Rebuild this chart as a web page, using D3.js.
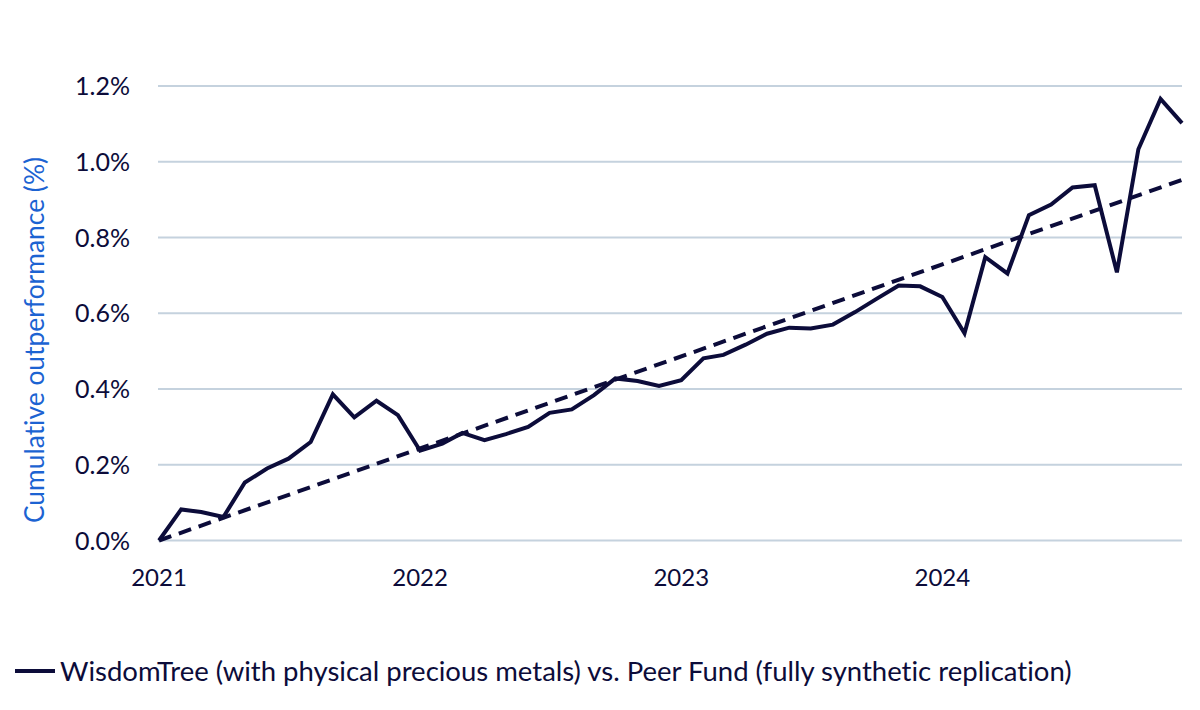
<!DOCTYPE html>
<html>
<head>
<meta charset="utf-8">
<script src="https://cdn.jsdelivr.net/npm/d3@7"></script>
<style>
  body { margin: 0; background: #fff; }
  text { font-family: Lato, "Open Sans", sans-serif; font-variant-ligatures: none; }
</style>
</head>
<body>
<svg width="1200" height="710"></svg>
<script>
// monthly cumulative outperformance, Jan 2021 .. Dec 2024 (%)
const months = d3.timeMonth.range(new Date(2021, 0, 1), new Date(2025, 0, 1));
const perf = [
  0, 0.082, 0.075, 0.062, 0.153, 0.190, 0.216, 0.260, 0.386, 0.325, 0.369, 0.331,
  0.237, 0.256, 0.284, 0.265, 0.281, 0.300, 0.337, 0.346, 0.384, 0.428, 0.421, 0.408,
  0.423, 0.481, 0.490, 0.517, 0.546, 0.562, 0.560, 0.570, 0.603, 0.638, 0.673, 0.671,
  0.643, 0.547, 0.748, 0.705, 0.859, 0.887, 0.932, 0.938, 0.708, 1.033, 1.166, 1.102
];
// linear trend, first and last month
const trendDates = [new Date(2021, 0, 1), new Date(2024, 11, 1)];
const trendVals = [0, 0.952];
const yTicks = [0, 0.2, 0.4, 0.6, 0.8, 1.0, 1.2];
const yearTicks = [2021, 2022, 2023, 2024].map(y => new Date(y, 0, 1));
const legendLabel = 'WisdomTree (with physical precious metals) vs. Peer Fund (fully synthetic replication)';

const ink = '#0c0c3a';
const svg = d3.select('svg');

const x = d3.scaleTime()
  .domain([months[0], months[months.length - 1]])
  .range([159, 1182]);
const y = d3.scaleLinear()
  .domain([0, 1.2])
  .range([540.5, 86]);

// grid
svg.append('g').selectAll('line')
  .data(yTicks)
  .join('line')
    .attr('x1', 158).attr('x2', 1182)
    .attr('y1', d => y(d)).attr('y2', d => y(d))
    .attr('stroke', '#c5d2de')
    .attr('stroke-width', 2);

// y tick labels
svg.append('g').selectAll('text')
  .data(yTicks)
  .join('text')
    .attr('x', 130)
    .attr('y', d => y(d) + 9)
    .attr('text-anchor', 'end')
    .attr('font-size', 25)
    .attr('fill', ink)
    .text(d => d3.format('.1f')(d) + '%');

// x tick labels
svg.append('g').selectAll('text')
  .data(yearTicks)
  .join('text')
    .attr('x', d => x(d))
    .attr('y', 586)
    .attr('text-anchor', 'middle')
    .attr('font-size', 24)
    .attr('fill', ink)
    .text(d => d3.timeFormat('%Y')(d));

// axis title
svg.append('text')
  .attr('transform', 'translate(44,340) rotate(-90)')
  .attr('text-anchor', 'middle')
  .attr('font-size', 26.4)
  .attr('fill', '#1c63d2')
  .text('Cumulative outperformance (%)');

// trend
const line = d3.line()
  .x(d => x(d[0]))
  .y(d => y(d[1]));

svg.append('path')
  .attr('d', line(d3.zip(trendDates, trendVals)))
  .attr('fill', 'none')
  .attr('stroke', ink)
  .attr('stroke-width', 4)
  .attr('stroke-dasharray', '13,8');

svg.append('path')
  .attr('d', line(d3.zip(months, perf)))
  .attr('fill', 'none')
  .attr('stroke', ink)
  .attr('stroke-width', 4)
  .attr('stroke-linejoin', 'miter');

// legend
svg.append('line')
  .attr('x1', 15).attr('x2', 55)
  .attr('y1', 671).attr('y2', 671)
  .attr('stroke', ink)
  .attr('stroke-width', 4);
svg.append('text')
  .attr('x', 60)
  .attr('y', 681)
  .attr('font-size', 27.5)
  .attr('fill', ink)
  .text(legendLabel);
</script>
</body>
</html>
